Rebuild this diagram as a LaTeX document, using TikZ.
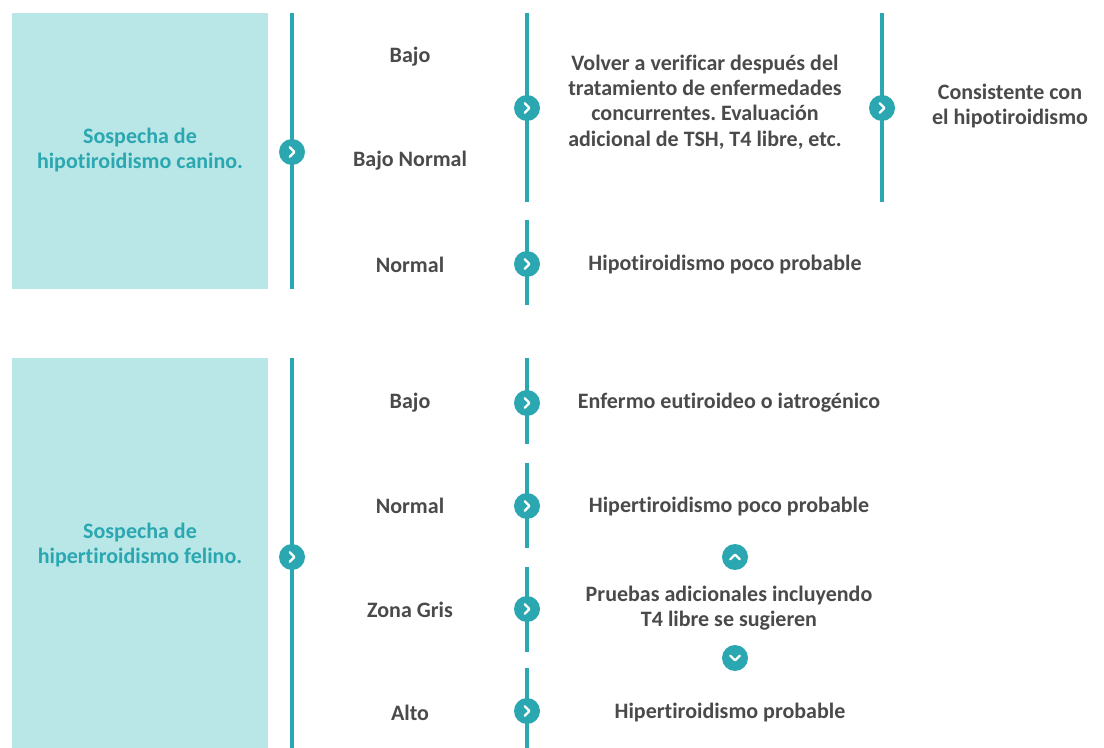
\documentclass[tikz,border=0pt]{standalone}
\usepackage{fontspec}
\setmainfont{Carlito}[Ligatures=NoCommon]
\frenchspacing
\definecolor{teal1}{HTML}{2AA7B0}
\definecolor{boxfill}{HTML}{B9E7E7}
\definecolor{txt}{HTML}{4A4A4A}
\tikzset{
  vline/.style={draw=teal1, line width=3pt},
  panel/.style={fill=boxfill, draw=none, minimum width=192pt, inner sep=0pt},
  paneltext/.style={text=teal1, font=\fontsize{16.5}{19}\selectfont\bfseries, align=center, inner sep=0pt},
  lbl/.style={text=txt, font=\fontsize{16.5}{19}\selectfont\bfseries, align=center, inner sep=0pt},
  chev/.style={circle, fill=teal1, minimum size=19.5pt, inner sep=0pt,
    path picture={\draw[white, line width=1.7pt, line cap=round, line join=round]
      ([xshift=-1.8pt,yshift=3.6pt]path picture bounding box.center) -- ++(3.6pt,-3.6pt) -- ++(-3.6pt,-3.6pt);}},
  chevup/.style={circle, fill=teal1, minimum size=19.5pt, inner sep=0pt,
    path picture={\draw[white, line width=1.7pt, line cap=round, line join=round]
      ([xshift=-3.6pt,yshift=-1.8pt]path picture bounding box.center) -- ++(3.6pt,3.6pt) -- ++(3.6pt,-3.6pt);}},
  chevdown/.style={circle, fill=teal1, minimum size=19.5pt, inner sep=0pt,
    path picture={\draw[white, line width=1.7pt, line cap=round, line join=round]
      ([xshift=-3.6pt,yshift=1.8pt]path picture bounding box.center) -- ++(3.6pt,-3.6pt) -- ++(3.6pt,3.6pt);}}
}
\begin{document}
\begin{tikzpicture}[x=0.75pt,y=-0.75pt]
\useasboundingbox (0,0) rectangle (1104,748);
\fill[white] (0,0) rectangle (1104,748);

% ---------- top panel ----------
\node[panel, minimum height=207pt] (boxA) at (140,151) {};
\node[paneltext] (tA) at (140,150) {Sospecha de\\hipotiroidismo canino.};

\coordinate (a1t) at (292,13);  \coordinate (a1b) at (292,289);
\coordinate (a2t) at (527,13);  \coordinate (a2b) at (527,202);
\coordinate (a3t) at (527,220); \coordinate (a3b) at (527,305);
\coordinate (a4t) at (882,13);  \coordinate (a4b) at (882,202);
\draw[vline] (a1t) -- (a1b);
\draw[vline] (a2t) -- (a2b);
\draw[vline] (a3t) -- (a3b);
\draw[vline] (a4t) -- (a4b);

\node[chev] (ca1) at (292,152) {};
\node[chev] (ca2) at (527,108) {};
\node[chev] (ca3) at (527,264) {};
\node[chev] (ca4) at (882,108) {};

\node[lbl] (la1) at (410,57) {Bajo};
\node[lbl] (la2) at (410,161) {Bajo Normal};
\node[lbl] (la3) at (410,265) {Normal};

\node[lbl] (ra1) at (705,102) {Volver a verificar después del\\tratamiento de enfermedades\\concurrentes. Evaluación\\adicional de TSH, T4 libre, etc.};
\node[lbl] (ra2) at (1010,106) {Consistente con\\el hipotiroidismo};
\node[lbl] (ra3) at (725,265) {Hipotiroidismo poco probable};

% ---------- bottom panel ----------
\node[panel, minimum height=292.5pt] (boxB) at (140,553) {};
\node[paneltext] (tB) at (140,545) {Sospecha de\\hipertiroidismo felino.};

\coordinate (b1t) at (292,358); \coordinate (b1b) at (292,748);
\coordinate (b2t) at (527,358); \coordinate (b2b) at (527,444);
\coordinate (b3t) at (527,463); \coordinate (b3b) at (527,548);
\coordinate (b4t) at (527,567); \coordinate (b4b) at (527,652);
\coordinate (b5t) at (527,668); \coordinate (b5b) at (527,748);
\draw[vline] (b1t) -- (b1b);
\draw[vline] (b2t) -- (b2b);
\draw[vline] (b3t) -- (b3b);
\draw[vline] (b4t) -- (b4b);
\draw[vline] (b5t) -- (b5b);

\node[chev] (cb1) at (292,557) {};
\node[chev] (cb2) at (527,403) {};
\node[chev] (cb3) at (527,506) {};
\node[chev] (cb4) at (527,609) {};
\node[chev] (cb5) at (527,711) {};
\node[chevup] (cup) at (735,557) {};
\node[chevdown] (cdown) at (735,658) {};

\node[lbl] (lb1) at (410,403) {Bajo};
\node[lbl] (lb2) at (410,506) {Normal};
\node[lbl] (lb3) at (410,610) {Zona Gris};
\node[lbl] (lb4) at (410,713) {Alto};

\node[lbl] (rb1) at (729,403) {Enfermo eutiroideo o iatrogénico};
\node[lbl] (rb2) at (729,507) {Hipertiroidismo poco probable};
\node[lbl] (rb3) at (729,608) {Pruebas adicionales incluyendo\\T4 libre se sugieren};
\node[lbl] (rb4) at (730,713) {Hipertiroidismo probable};
\end{tikzpicture}
\end{document}
